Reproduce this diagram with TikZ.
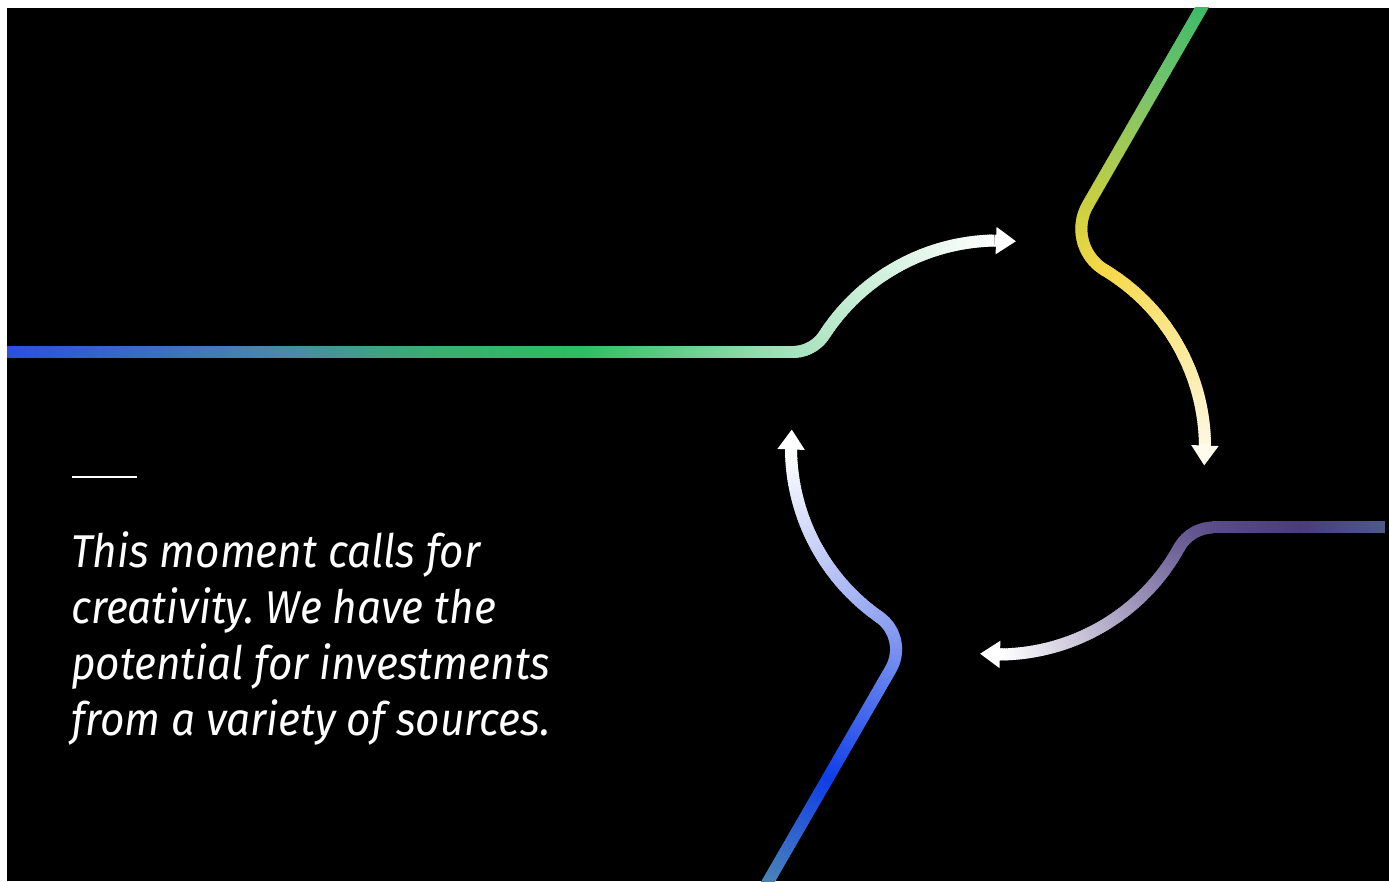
\documentclass[tikz,border=0pt]{standalone}
\usepackage{fontspec}
\usepackage{tikz}
\usetikzlibrary{arrows.meta,decorations.markings}
\newfontfamily\quotefont{Fira Sans}[FakeStretch=0.92]
\frenchspacing

% stroke colours, start to end of each path
\definecolor{blueA}{HTML}{2A4EE0}
\definecolor{tealA}{HTML}{4A88A8}
\definecolor{greenA}{HTML}{3AAE72}
\definecolor{greenB}{HTML}{2CBD60}
\definecolor{mintA}{HTML}{A6E2BD}
\definecolor{greenC}{HTML}{2BB866}
\definecolor{limeA}{HTML}{78C46A}
\definecolor{yellowA}{HTML}{CAD040}
\definecolor{goldA}{HTML}{F7D847}
\definecolor{creamA}{HTML}{FEF8E2}
\definecolor{creamB}{HTML}{FFFCEE}
\definecolor{slateA}{HTML}{4C5A8A}
\definecolor{purpleA}{HTML}{4A3C78}
\definecolor{purpleB}{HTML}{5A4C88}
\definecolor{purpleC}{HTML}{6E6298}
\definecolor{tealB}{HTML}{5590B0}
\definecolor{blueB}{HTML}{0F3EE8}
\definecolor{blueC}{HTML}{6A86F0}
\definecolor{blueD}{HTML}{94A6F2}

\tikzset{
  grad/.style 2 args={decorate,decoration={markings,
    mark=between positions 0 and 1 step 2pt with {
      \pgfmathsetmacro\gf{min(100,(\pgfkeysvalueof{/pgf/decoration/mark info/distance from start}/\pgfdecoratedpathlength)*100)}
      \draw[line width=12pt,#2!\gf!#1] (-1.5pt,0) -- (1.5pt,0);}}},
  headline/.style={line width=12pt,-{Triangle[length=20pt,width=26pt]}}
}

\begin{document}
\begin{tikzpicture}[x=1pt,y=1pt]
\useasboundingbox (0,0) rectangle (1389,881);
\fill[white] (0,0) rectangle (1389,881);
\fill[black] (7,0) rectangle (1389,873);
\begin{scope}
\clip (7,0) rectangle (1389,873);
% centre of the cycle and where the four arcs start
\coordinate (c) at (998,433.5);
\coordinate (s1) at ([shift={(c)}]147:207);
\coordinate (s2) at ([shift={(c)}]59:207);
\coordinate (s3) at ([shift={(c)}]-29:207);
\coordinate (s4) at ([shift={(c)}]235:207);
% left feeder
\path[grad={blueA}{tealA}] (0,529) -- (280,529);
\path[grad={tealA}{greenA}] (280,529) -- (430,529);
\path[grad={greenA}{greenB}] (430,529) -- (580,529);
\path[grad={greenB}{mintA}] (580,529) -- (792.64,529);
\path[grad={mintA}{white}] (792.64,529) arc[start angle=-90,end angle=-33,radius=37.86]
  arc[start angle=147,end angle=91,radius=207];
\draw[headline,white] ([shift={(c)}]91:207) -- ([shift={(c)}]85:207);
% top feeder
\path[grad={greenC}{limeA}] (1217.1,900) -- (1152.4,788);
\path[grad={limeA}{yellowA}] (1152.4,788) -- (1087.77,676.02);
\path[grad={yellowA}{goldA}] (1087.77,676.02) arc[start angle=150,end angle=239,radius=47.95];
\path[grad={goldA}{creamA}] (s2) arc[start angle=59,end angle=1,radius=207];
\draw[headline,creamB] ([shift={(c)}]1:207) -- ([shift={(c)}]-5:207);
% right feeder
\path[grad={slateA}{purpleA}] (1383,353.5) -- (1300,353.5);
\path[grad={purpleA}{purpleB}] (1300,353.5) -- (1213.59,353.5);
\path[grad={purpleB}{purpleC}] (1213.59,353.5) arc[start angle=90,end angle=151,radius=39.5];
\path[grad={purpleC}{white}] (s3) arc[start angle=-29,end angle=-89,radius=207];
\draw[headline,white] ([shift={(c)}]-89:207) -- ([shift={(c)}]-95:207);
% bottom feeder
\path[grad={tealB}{blueB}] (756.9,-20) -- (827.9,103);
\path[grad={blueB}{blueC}] (827.9,103) -- (890.79,211.95);
\path[grad={blueC}{blueD}] (890.79,211.95) arc[start angle=-30,end angle=55,radius=39.4];
\path[grad={blueD}{white}] (s4) arc[start angle=235,end angle=181,radius=207];
\draw[headline,white] ([shift={(c)}]181:207) -- ([shift={(c)}]175:207);
\end{scope}
% the quote
\draw[white,line width=2.5pt] (72,404) -- (137,404);
\node[text=white,anchor=base west,align=left,inner sep=0pt,
  font=\quotefont\itshape\fontsize{46}{55.7}\selectfont] (quote) at (71,146)
  {This moment calls for\\creativity. We have the\\potential for investments\\from a variety of sources.};
\end{tikzpicture}
\end{document}
